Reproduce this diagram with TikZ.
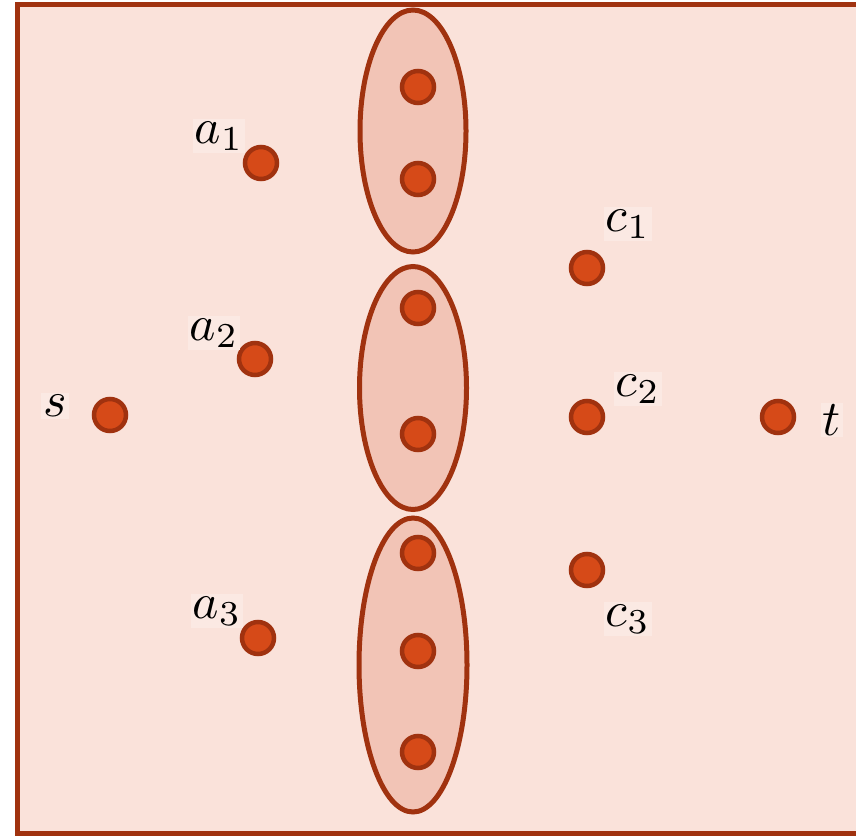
\documentclass[tikz,border=0pt]{standalone}
\usetikzlibrary{shapes.geometric}
\definecolor{edge}{RGB}{160,50,15}
\definecolor{dotfill}{RGB}{214,74,24}
\definecolor{bgpink}{RGB}{250,226,218}
\definecolor{ellpink}{RGB}{242,196,182}
\definecolor{labpink}{RGB}{251,233,227}
\tikzset{
  vert/.style={circle,draw=edge,fill=dotfill,line width=4.5pt,minimum size=32pt,inner sep=0pt},
  grp/.style={ellipse,draw=edge,fill=ellpink,line width=5pt,inner sep=0pt},
  lab/.style={fill=labpink,inner sep=0.4pt,scale=5}
}
\begin{document}
\begin{tikzpicture}[x=1pt,y=-1pt]
\useasboundingbox (0,0) rectangle (856,837);
\draw[edge,fill=bgpink,line width=5pt] (17,5) rectangle (900,833);
% groups
\node[grp,minimum width=106pt,minimum height=242pt] (e1) at (413,131) {};
\node[grp,minimum width=107pt,minimum height=243pt] (e2) at (413,388) {};
\node[grp,minimum width=108pt,minimum height=294pt] (e3) at (413,665) {};
% vertices
\node[vert] (s) at (110,415) {};
\node[vert] (t) at (778,417) {};
\node[vert] (a1) at (261,163) {};
\node[vert] (a2) at (255,359) {};
\node[vert] (a3) at (258,638) {};
\node[vert] (c1) at (587,268) {};
\node[vert] (c2) at (587,417) {};
\node[vert] (c3) at (587,570) {};
\node[vert] (g1) at (418,87) {};
\node[vert] (g2) at (418,179) {};
\node[vert] (g3) at (418,308) {};
\node[vert] (g4) at (418,434) {};
\node[vert] (g5) at (418,553) {};
\node[vert] (g6) at (418,651) {};
\node[vert] (g7) at (418,752) {};
% labels
\node[lab] (ls) at (55,406) {$s$};
\node[lab] (lt) at (832,420) {$t$};
\node[lab] (la1) at (219,136) {$a_1$};
\node[lab] (la2) at (214,333) {$a_2$};
\node[lab] (la3) at (217,611) {$a_3$};
\node[lab] (lc1) at (628,224) {$c_1$};
\node[lab] (lc2) at (638,389) {$c_2$};
\node[lab] (lc3) at (628,619) {$c_3$};
\end{tikzpicture}
\end{document}
